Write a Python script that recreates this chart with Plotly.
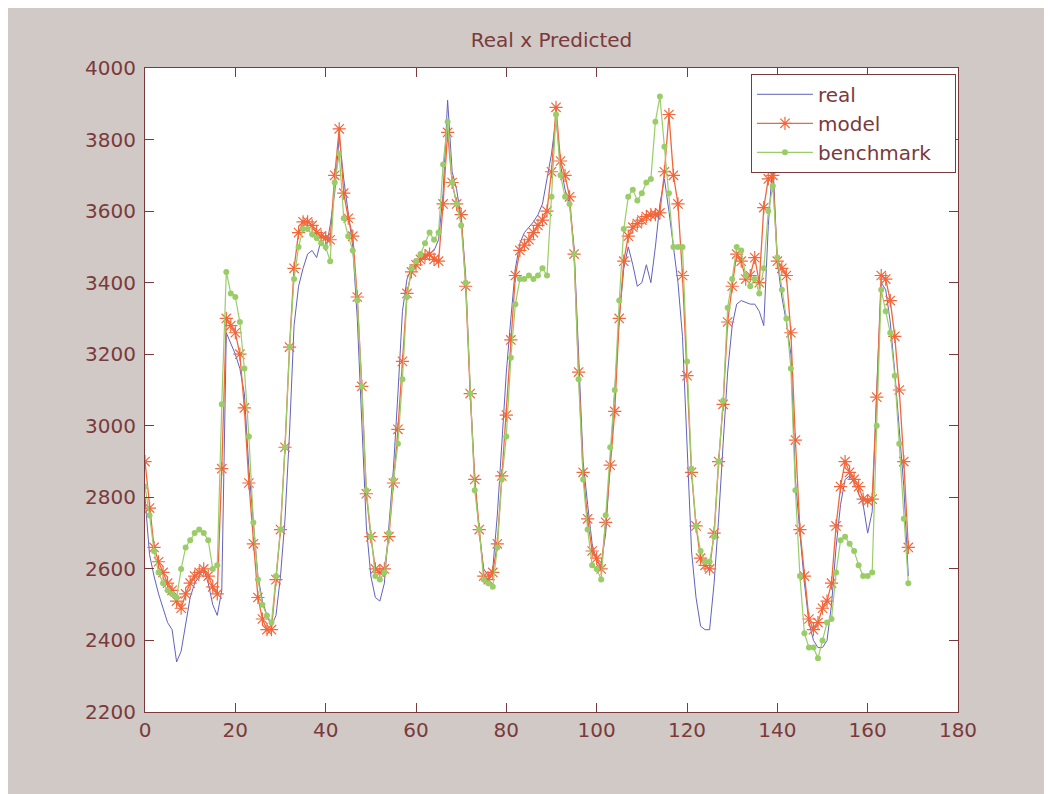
import plotly.graph_objects as go

# ---------------- data ----------------
real = [
    2800, 2640, 2580, 2530, 2490, 2450, 2430, 2340, 2370, 2450,
    2520, 2560, 2580, 2600, 2560, 2500, 2470, 2540, 3260, 3230,
    3200, 3160, 3090, 2880, 2720, 2580, 2510, 2470, 2440, 2470,
    2580, 2740, 2980, 3280, 3390, 3440, 3480, 3490, 3470, 3520,
    3490, 3560, 3650, 3810, 3690, 3600, 3500, 3300, 3000, 2720,
    2580, 2520, 2510, 2560, 2720, 2880, 3090, 3320, 3410, 3440,
    3450, 3460, 3470, 3480, 3490, 3520, 3650, 3910, 3710, 3660,
    3580, 3420, 3100, 2850, 2700, 2600, 2580, 2600, 2750, 2950,
    3150, 3300, 3440, 3510, 3540, 3555, 3570, 3590, 3620, 3690,
    3760, 3860, 3730, 3660, 3620, 3500, 3200, 2900, 2780, 2670,
    2620, 2610, 2700, 2900, 3100, 3300, 3440, 3500, 3450, 3390,
    3400, 3450, 3400, 3500, 3620, 3690, 3600, 3500, 3400, 3250,
    2950, 2650, 2520, 2440, 2430, 2430, 2560, 2740, 2950, 3150,
    3280, 3340, 3350, 3345, 3340, 3340, 3320, 3280, 3560, 3740,
    3460, 3360, 3290, 3200, 2850, 2700, 2560, 2450, 2400, 2380,
    2380, 2400, 2500, 2660, 2780, 2850, 2860, 2840, 2810, 2780,
    2700, 2760, 3100, 3400, 3380, 3290, 3150, 2990, 2830, 2580,
]

model = [
    2900, 2770, 2660, 2620, 2590, 2560, 2540, 2510, 2490, 2530,
    2560, 2580, 2590, 2600, 2580, 2550, 2530, 2880, 3300, 3280,
    3260, 3200, 3050, 2840, 2670, 2520, 2460, 2430, 2430, 2570,
    2710, 2940, 3220, 3440, 3540, 3570, 3570, 3560, 3540, 3530,
    3525, 3520, 3700, 3830, 3650, 3580, 3530, 3360, 3110, 2810,
    2690, 2600, 2590, 2600, 2690, 2840, 2990, 3180, 3370, 3430,
    3450, 3465, 3475, 3480, 3465, 3460, 3620, 3820, 3680, 3620,
    3590, 3390, 3090, 2850, 2710, 2580, 2570, 2590, 2670, 2860,
    3030, 3240, 3420, 3490, 3505, 3520, 3540, 3560, 3575, 3600,
    3710, 3890, 3740, 3700, 3640, 3480, 3150, 2870, 2740, 2650,
    2630, 2600, 2730, 2890, 3040, 3300, 3460, 3530, 3555, 3565,
    3575, 3585, 3590, 3590, 3595, 3710, 3870, 3700, 3620, 3420,
    3140, 2870, 2720, 2630, 2610, 2600, 2700, 2900, 3060, 3290,
    3390, 3480, 3460, 3410, 3420, 3470, 3400, 3610, 3690, 3700,
    3460, 3440, 3420, 3260, 2960, 2710, 2580, 2460, 2430, 2450,
    2490, 2510, 2560, 2720, 2830, 2900, 2870, 2850, 2830, 2795,
    2790, 2795, 3080, 3420, 3410, 3350, 3250, 3100, 2900, 2660,
]

benchmark = [
    2830, 2750, 2650, 2590, 2560, 2540, 2530, 2520, 2600, 2660,
    2680, 2700, 2710, 2700, 2680, 2600, 2610, 3060, 3430, 3370,
    3360, 3290, 3160, 2970, 2730, 2570, 2500, 2470, 2450, 2580,
    2710, 2940, 3220, 3410, 3500, 3550, 3550, 3535, 3525, 3510,
    3500, 3460, 3680, 3760, 3580, 3530, 3490, 3350, 3110, 2820,
    2690, 2580, 2570, 2590, 2700, 2850, 2950, 3130, 3360, 3440,
    3460, 3480, 3510, 3540, 3520, 3540, 3730, 3850, 3680, 3620,
    3560, 3400, 3090, 2820, 2710, 2570, 2560, 2550, 2660, 2850,
    2970, 3190, 3340, 3410, 3410, 3420, 3410, 3420, 3440, 3420,
    3640, 3870, 3700, 3640, 3620, 3480, 3130, 2850, 2710, 2610,
    2600, 2570, 2750, 2940, 3100, 3350, 3550, 3640, 3660, 3630,
    3650, 3680, 3690, 3850, 3920, 3780, 3650, 3500, 3500, 3500,
    3180, 2880, 2720, 2650, 2620, 2620, 2690, 2900, 3070, 3330,
    3410, 3500, 3490, 3420, 3390, 3410, 3370, 3440, 3600, 3670,
    3470, 3380, 3300, 3160, 2820, 2580, 2420, 2380, 2380, 2350,
    2400, 2450, 2460, 2590, 2680, 2690, 2670, 2650, 2610, 2580,
    2580, 2590, 3000, 3380, 3320, 3260, 3140, 2950, 2740, 2560,
]

x_ticks = [0, 20, 40, 60, 80, 100, 120, 140, 160, 180]
y_ticks = [2200, 2400, 2600, 2800, 3000, 3200, 3400, 3600, 3800, 4000]
title_text = "Real x Predicted"
names = ["real", "model", "benchmark"]

# ---------------- styling ----------------
MAROON = "#7a3a3c"
BG = "#d1c9c5"
FONT = "DejaVu Sans"
W, H = 1052, 794
# the page body adds an 8px offset; plot area lands at screen x 145..958, y 68..712
ML, MR, MT, MB = 137, 102, 60, 90

xs = list(range(len(real)))
PAD = "\u00a0\u00a0\u00a0"

fig = go.Figure()
fig.add_trace(go.Scatter(x=xs, y=real, name=names[0] + PAD, mode="lines",
                         line=dict(color="#6262bc", width=1)))
fig.add_trace(go.Scatter(x=xs, y=model, name=names[1] + PAD, mode="lines+markers",
                         line=dict(color="#f2663a", width=1.3),
                         marker=dict(symbol="asterisk-open", size=11,
                                     line=dict(color="#f2663a", width=1.2))))
fig.add_trace(go.Scatter(x=xs, y=benchmark, name=names[2] + PAD, mode="lines+markers",
                         line=dict(color="#9acd68", width=1.2),
                         marker=dict(symbol="circle", size=6, color="#9acd68")))

axis_common = dict(
    showline=True, linecolor=MAROON, linewidth=1, mirror="ticks",
    ticks="inside", ticklen=9, tickcolor=MAROON, tickwidth=1,
    showgrid=False, zeroline=False,
    tickfont=dict(family=FONT, size=20, color=MAROON),
)

fig.update_layout(
    width=W, height=H,
    margin=dict(l=ML, r=MR, t=MT, b=MB),
    paper_bgcolor=BG, plot_bgcolor="white",
    title=dict(text=title_text, x=0.5, xref="paper", xanchor="center",
               y=1 - 32 / H, yref="container", yanchor="middle",
               font=dict(family=FONT, size=20, color=MAROON)),
    xaxis=dict(range=[0, 180], tickvals=x_ticks, **axis_common),
    yaxis=dict(range=[2200, 4000], tickvals=y_ticks, ticklabelstandoff=4,
               **axis_common),
    legend=dict(x=0.9975, y=0.991, xanchor="right", yanchor="top",
                bgcolor="white", bordercolor=MAROON, borderwidth=1,
                font=dict(family=FONT, size=20, color=MAROON),
                itemwidth=56, tracegroupgap=0),
    showlegend=True,
)

fig.write_html("out.html")
